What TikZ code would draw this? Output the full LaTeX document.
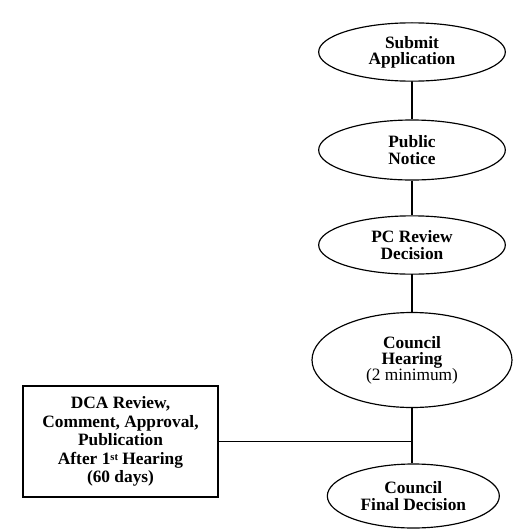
\documentclass[tikz,border=0pt]{standalone}
\usepackage{fontspec}
\setmainfont{Liberation Serif}
\usetikzlibrary{shapes.geometric, calc}
\tikzset{
  every picture/.style={line width=1pt},
  stage/.style={draw, ellipse, inner sep=0pt, align=center, minimum width=5.6cm, minimum height=1.75cm,
    font=\fontsize{14.8}{13.8}\selectfont\bfseries},
  sidebox/.style={draw, rectangle, inner sep=0pt, align=center, minimum width=5.85cm, minimum height=3.33cm,
    font=\fontsize{14.8}{15.8}\selectfont\bfseries},
  link/.style={draw=black, line width=0.9pt},
}

\begin{document}
\begin{tikzpicture}
  \useasboundingbox (0,0) rectangle (15.78,-15.93);
  % main chain
  \node[stage] (submit) at (12.36,-1.56) {Submit\\Application};
  \node[stage, minimum height=1.8cm] (notice) at (12.36,-4.5) {Public\\Notice};
  \node[stage] (pcrev) at (12.36,-7.35) {PC Review\\Decision};
  \node[stage, minimum width=6cm, minimum height=2.85cm] (hearing) at (12.36,-10.8)
    {Council\\Hearing\\{\mdseries (2 minimum)}};
  \node[stage, minimum width=5.16cm, minimum height=1.92cm] (final) at (12.4,-14.88)
    {Council\\Final Decision};
  % side box
  \node[sidebox] (dca) at (3.615,-13.245)
    {DCA Review,\\Comment, Approval,\\Publication\\After 1{\fontsize{9}{9}\selectfont\raisebox{0.8ex}{st}} Hearing\\(60 days)};
  \coordinate (join) at (hearing.south |- dca.east);
  % connectors
  \draw[link] (submit) -- (notice);
  \draw[link] (notice) -- (pcrev);
  \draw[link] (pcrev) -- (hearing);
  \draw[link] (hearing.south) -- (final.north -| hearing.south);
  \draw[link] (dca) -- (join);
\end{tikzpicture}
\end{document}
